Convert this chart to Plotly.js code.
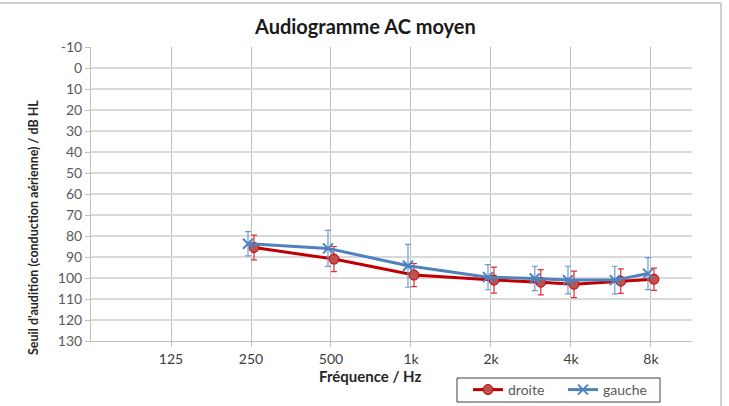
<!DOCTYPE html>
<html><head><meta charset="utf-8">
<script src="https://cdn.plot.ly/plotly-3.0.1.min.js"></script>
<style>html,body{margin:0;padding:0;background:#fff}#c{width:729px;height:406px}</style>
</head><body><div id="c"></div>
<script>
const freqs = [250, 500, 1000, 2000, 3000, 4000, 6000, 8000];
const droite = [85.5, 91, 98.6, 101, 102, 103, 101.5, 100.6];
const droiteErr = [5.9, 6, 5.5, 6.2, 6, 6.3, 5.8, 5.3];
const gauche = [83.7, 85.9, 94.2, 99.6, 100.2, 101, 101, 97.9];
const gaucheErr = [5.8, 8.6, 10.2, 6, 5.8, 6.6, 6.6, 7.6];
const xTickVals = [125, 250, 500, 1000, 2000, 4000, 8000];
const xTickText = ["125", "250", "500", "1k", "2k", "4k", "8k"];
const yTickVals = [-10, 0, 10, 20, 30, 40, 50, 60, 70, 80, 90, 100, 110, 120, 130];
const yTickText = ["-10", "0", "10", "20", "30", "40", "50", "60", "70", "80", "90", "100", "110", "120", "130"];

// small horizontal offset between ears, as in the original (≈3 px of an 80 px octave)
const shift = Math.pow(2, 3/80);
const xR = freqs.map(f => f * shift);
const xL = freqs.map(f => f / shift);

const font = "Lato, 'Liberation Sans', sans-serif";
const traces = [
  {x: xR, y: droite, name: "droite", type: "scatter", mode: "lines+markers",
   line: {color: "#C00000", width: 3},
   marker: {symbol: "circle", size: 10, color: "#C0504D", line: {color: "#C00000", width: 1}},
   error_y: {type: "data", array: droiteErr, visible: true, color: "#E03030", thickness: 1.2, width: 3}},
  {x: xL, y: gauche, name: "gauche", type: "scatter", mode: "lines+markers",
   line: {color: "#4F81BD", width: 3},
   marker: {symbol: "x-thin", size: 10, color: "#4F81BD", line: {color: "#4F81BD", width: 2}},
   error_y: {type: "data", array: gaucheErr, visible: true, color: "#6C9BD2", thickness: 1.2, width: 3}}
];

const L = 91, R = 692, T = 47, B = 341, W = 729, H = 406;
const pw = R - L, ph = B - T;
const px = v => (v - L) / pw;
const py = v => (B - v) / ph;

const layout = {
  width: W, height: H,
  margin: {l: L, r: W - R, t: T, b: H - B, pad: 0, autoexpand: false},
  paper_bgcolor: "#fff", plot_bgcolor: "#fff",
  font: {family: font, size: 13, color: "#595959"},
  showlegend: true,
  legend: {orientation: "h", x: px(468), y: py(374), xanchor: "left", yanchor: "top",
    borderwidth: 0, bgcolor: "rgba(0,0,0,0)",
    font: {family: font, size: 14, color: "#595959"},
    itemwidth: 30, tracegroupgap: 0, entrywidth: 50},
  xaxis: {type: "log", range: [Math.log10(62.5), Math.log10(11414)],
    tickvals: xTickVals, ticktext: xTickText,
    showgrid: true, gridcolor: "#c0c0c0", gridwidth: 1,
    showline: true, linecolor: "#bfbfbf", linewidth: 1,
    ticks: "outside", ticklen: 5, tickcolor: "#bfbfbf",
    tickfont: {family: font, size: 14, color: "#404040"},
    zeroline: false, fixedrange: true},
  yaxis: {range: [130, -10], tickvals: yTickVals, ticktext: yTickText,
    showgrid: true, gridcolor: "#d9d9d9", gridwidth: 1.5,
    showline: true, linecolor: "#bfbfbf", linewidth: 1,
    ticks: "outside", ticklen: 5, tickcolor: "#bfbfbf",
    tickfont: {family: font, size: 14, color: "#595959"},
    zeroline: false, fixedrange: true},
  annotations: [
    {text: "<b>Audiogramme AC moyen</b>", xref: "paper", yref: "paper",
     x: px(365), y: py(26), xanchor: "center", yanchor: "middle", showarrow: false,
     font: {family: font, size: 20, color: "#1a1a1a"}},
    {text: "<b>Fréquence / Hz</b>", xref: "paper", yref: "paper",
     x: px(370), y: py(376), xanchor: "center", yanchor: "middle", showarrow: false,
     font: {family: font, size: 15, color: "#262626"}},
    {text: "<b>Seuil d'audition (conduction aérienne) / dB HL</b>", xref: "paper", yref: "paper",
     x: px(33), y: py(228), xanchor: "center", yanchor: "middle", textangle: -90, showarrow: false,
     font: {family: font, size: 12.5, color: "#262626"}}
  ],
  shapes: [
    {type: "rect", xref: "paper", yref: "paper",
     x0: px(-5), x1: px(721), y0: py(415), y1: py(3),
     line: {color: "#a0a0a0", width: 1}, fillcolor: "rgba(0,0,0,0)", layer: "below"},
    {type: "rect", xref: "paper", yref: "paper",
     x0: px(457), x1: px(660), y0: py(402), y1: py(378),
     line: {color: "#404040", width: 1}, fillcolor: "rgba(0,0,0,0)", layer: "above"}
  ]
};

Plotly.newPlot("c", traces, layout, {displayModeBar: false, staticPlot: true});
</script></body></html>
